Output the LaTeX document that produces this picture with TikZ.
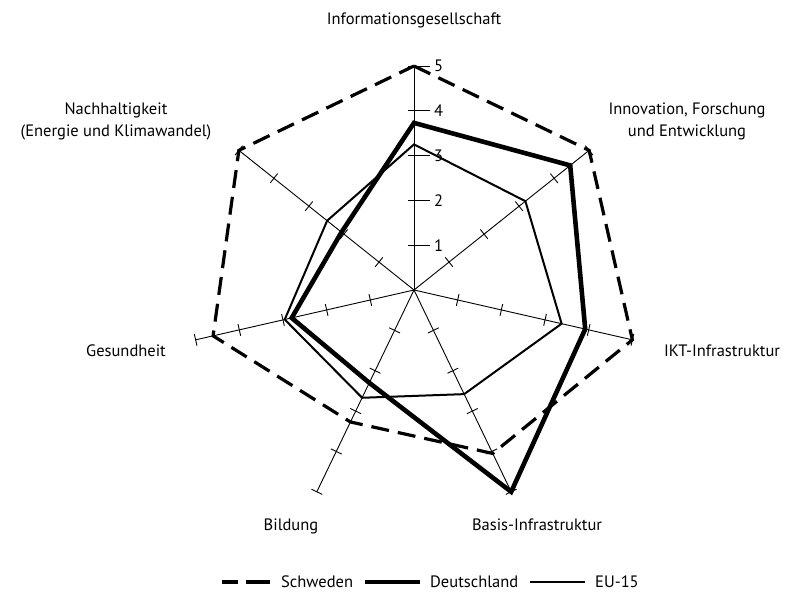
\documentclass[tikz,border=0pt]{standalone}
\usepackage{fontspec}
\setmainfont{PT Sans}
\usetikzlibrary{calc}
\begin{document}
\begin{tikzpicture}[x=1pt,y=1pt,
  axisline/.style={line width=0.9pt},
  schweden/.style={line width=3.2pt,dash pattern=on 18pt off 9pt,line join=miter},
  deutsch/.style={line width=4.6pt,line join=miter},
  eu/.style={line width=2pt,line join=miter},
  lbl/.style={font=\fontsize{16.5}{22}\selectfont, align=center, inner sep=0pt, anchor=base},
  num/.style={font=\fontsize{16.5}{20}\selectfont, inner sep=0pt, anchor=base west}]
\useasboundingbox (0,0) rectangle (800,592);
\coordinate (O) at (414,302);
\def\u{44.8}
% axes with ticks
\foreach \i in {0,...,6} {
  \pgfmathsetmacro\ang{90-\i*360/7}
  \begin{scope}[shift={(O)}, rotate=\ang]
    \draw[axisline] (0,0) coordinate (C\i) -- (5*\u,0) coordinate (A\i);
    \foreach \k in {1,...,5} { \draw[axisline] (\k*\u,-6) -- (\k*\u,6); }
  \end{scope}
}
% extra tick extension and numbers on the first axis
\foreach \k in {1,...,5} {
  \draw[axisline] ($(O)+(0,\k*\u)$) -- ++(16,0) coordinate (n\k);
  \node[num] (N\k) at ($(n\k)+(4,-6)$) {\k};
}
% series values
\foreach \v [count=\j from 0] in {5,5,5,4.05,3.27,4.6,5}
  \path[shift={(O)}] ({90-\j*360/7}:{\v*\u}) coordinate (S\j);
\foreach \v [count=\j from 0] in {3.73,4.46,3.92,5,2.3,2.8,2.07}
  \path[shift={(O)}] ({90-\j*360/7}:{\v*\u}) coordinate (D\j);
\foreach \v [count=\j from 0] in {3.25,3.18,3.38,2.58,2.67,2.96,2.48}
  \path[shift={(O)}] ({90-\j*360/7}:{\v*\u}) coordinate (E\j);
\draw[eu] (E0)--(E1)--(E2)--(E3)--(E4)--(E5)--(E6)--cycle;
\draw[deutsch] (D0)--(D1)--(D2)--(D3)--(D4)--(D5)--(D6)--cycle;
\draw[schweden] (S0)--(S1)--(S2)--(S3)--(S4)--(S5)--(S6)--cycle;
% axis labels
\node[lbl] (tInfo) at (414,567) {Informationsgesellschaft};
\node[lbl] (tInno) at (687,455) {Innovation, Forschung\\und Entwicklung};
\node[lbl] (tNach) at (116,455) {Nachhaltigkeit\\(Energie und Klimawandel)};
\node[lbl] (tIKT) at (722,235) {IKT-Infrastruktur};
\node[lbl] (tBasis) at (537,62) {Basis-Infrastruktur};
\node[lbl] (tBild) at (291,62) {Bildung};
\node[lbl] (tGes) at (126,235) {Gesundheit};
% legend
\coordinate (L1a) at (222,10); \coordinate (L1b) at (270,10);
\coordinate (L2a) at (365,10); \coordinate (L2b) at (420,10);
\coordinate (L3a) at (530,10); \coordinate (L3b) at (585,10);
\draw[line width=3.2pt,dash pattern=on 16pt off 8pt on 40pt] (L1a) -- (L1b);
\draw[line width=4.6pt] (L2a) -- (L2b);
\draw[line width=2pt] (L3a) -- (L3b);
\node[num] (lS) at (281,5) {Schweden};
\node[num] (lD) at (430,5) {Deutschland};
\node[num] (lE) at (595,5) {EU-15};
\end{tikzpicture}
\end{document}
